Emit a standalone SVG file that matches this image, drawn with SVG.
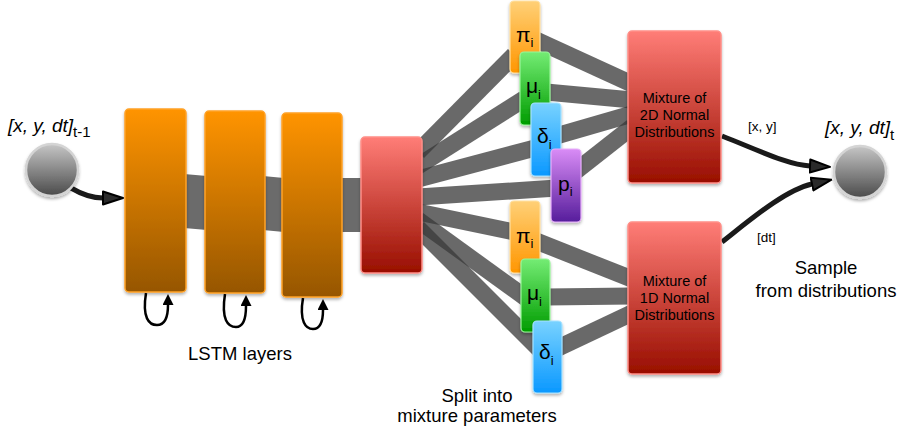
<svg xmlns="http://www.w3.org/2000/svg" width="902" height="434" viewBox="0 0 902 434">
<defs>
<style>
.t{font-family:"Liberation Sans",Arial,sans-serif;fill:#000}
.lab{font-size:18.5px}
.mix{font-size:14.5px;text-anchor:middle}
.small{font-size:13.5px}
.greek{font-size:21px}
.sub{font-size:13px}
.band{fill:#6b6b6b}
.fan{stroke:#3a3a3a;stroke-opacity:0.76;stroke-width:17;fill:none;stroke-linecap:butt}
.loop{stroke:#000;stroke-width:2.5;fill:none}
.flow{stroke:#1a1a1a;stroke-width:5;fill:none}
</style>
<linearGradient id="gOr" x1="0" y1="0" x2="0" y2="1"><stop offset="0" stop-color="#ff9400"/><stop offset="1" stop-color="#965600"/></linearGradient>
<linearGradient id="gRed" x1="0" y1="0" x2="0" y2="1"><stop offset="0" stop-color="#ff7d77"/><stop offset="1" stop-color="#980e00"/></linearGradient>
<linearGradient id="gPi" x1="0" y1="0" x2="0" y2="1"><stop offset="0" stop-color="#ffd077"/><stop offset="1" stop-color="#ff9600"/></linearGradient>
<linearGradient id="gMu" x1="0" y1="0" x2="0" y2="1"><stop offset="0" stop-color="#74ec74"/><stop offset="1" stop-color="#009c00"/></linearGradient>
<linearGradient id="gDe" x1="0" y1="0" x2="0" y2="1"><stop offset="0" stop-color="#78d2ff"/><stop offset="1" stop-color="#0a98ff"/></linearGradient>
<linearGradient id="gP" x1="0" y1="0" x2="0" y2="1"><stop offset="0" stop-color="#d98cf6"/><stop offset="1" stop-color="#561d9c"/></linearGradient>
<linearGradient id="gCi" x1="0" y1="0" x2="0" y2="1"><stop offset="0" stop-color="#c6c6c6"/><stop offset="1" stop-color="#4a4a4a"/></linearGradient>
<filter id="sh" x="-20%" y="-20%" width="140%" height="140%"><feDropShadow dx="0" dy="2" stdDeviation="1.5" flood-color="#000" flood-opacity="0.3"/></filter>
<marker id="aLoop" viewBox="0 0 12 12" refX="0" refY="6" markerWidth="12" markerHeight="11" markerUnits="userSpaceOnUse" orient="auto"><path d="M0,0 L12,6 L0,12 Z" fill="#000"/></marker>
<marker id="aFlow" viewBox="0 0 22 16" refX="1" refY="8" markerWidth="22" markerHeight="16" markerUnits="userSpaceOnUse" orient="auto"><path d="M1,1.5 L21,8 L1,14.5 Z" fill="#2a2a2a" stroke="#000" stroke-width="2" stroke-linejoin="round"/></marker>
</defs>
<rect width="902" height="434" fill="#fff"/>

<g id="connectors">
  <polygon class="band" points="184,174 207,176 207,230 184,228"/>
  <polygon class="band" points="263,176 284,178 284,232 263,230"/>
  <polygon class="band" points="340,178 363,178 363,232 340,232"/>
  <line class="fan" x1="418" y1="152" x2="514" y2="55"/>
  <line class="fan" x1="418" y1="166" x2="524" y2="99"/>
  <line class="fan" x1="418" y1="179" x2="535" y2="148"/>
  <line class="fan" x1="418" y1="197" x2="557" y2="188"/>
  <line class="fan" x1="418" y1="212" x2="514" y2="232"/>
  <line class="fan" x1="418" y1="220" x2="526" y2="298"/>
  <line class="fan" x1="418" y1="228" x2="540" y2="350"/>
  <line class="fan" x1="536" y1="40" x2="632" y2="84"/>
  <line class="fan" x1="546" y1="92" x2="632" y2="100"/>
  <line class="fan" x1="556" y1="136" x2="632" y2="114"/>
  <line class="fan" x1="576" y1="171" x2="632" y2="127"/>
  <line class="fan" x1="536" y1="241" x2="632" y2="279"/>
  <line class="fan" x1="546" y1="297" x2="632" y2="296"/>
  <line class="fan" x1="558" y1="348" x2="632" y2="313"/>
  <path class="flow" d="M71,188 Q88,198 103,198" marker-end="url(#aFlow)"/>
  <path class="flow" d="M722,136 C758,150 788,165 810,166" marker-end="url(#aFlow)"/>
  <path class="flow" d="M722,242 C750,220 785,190 812,184" marker-end="url(#aFlow)"/>
  <path class="loop" d="M146,293 C142,318 149,325 157,325 C165,325 168,316 168,305" marker-end="url(#aLoop)"/>
  <path class="loop" d="M225,294 C221,320 228,327 236,327 C244,327 246,318 246,306" marker-end="url(#aLoop)"/>
  <path class="loop" d="M303,298 C299,322 306,329 313,329 C320,329 323,321 323,310" marker-end="url(#aLoop)"/>
</g>

<g id="input">
  <circle cx="52" cy="170" r="26" fill="url(#gCi)" stroke="#d4d4d4" stroke-width="2.5" filter="url(#sh)"/>
  <text class="t" x="8" y="132" font-size="19" font-style="italic">[x, y, dt]<tspan font-style="normal" font-size="15" dy="5">t-1</tspan></text>
</g>

<g id="lstm1"><rect x="125" y="109" width="61" height="183" rx="4" fill="url(#gOr)" stroke="#ffa226" stroke-width="1.5" filter="url(#sh)"/></g>
<g id="lstm2"><rect x="205" y="111" width="60" height="182" rx="4" fill="url(#gOr)" stroke="#ffa226" stroke-width="1.5" filter="url(#sh)"/></g>
<g id="lstm3"><rect x="282" y="113" width="60" height="184" rx="4" fill="url(#gOr)" stroke="#ffa226" stroke-width="1.5" filter="url(#sh)"/></g>
<g id="lstm-label"><text class="t lab" x="240" y="360" text-anchor="middle">LSTM layers</text></g>

<g id="split"><rect x="361" y="137" width="61" height="136" rx="4" fill="url(#gRed)" stroke="#ff8f88" stroke-width="1.5" filter="url(#sh)"/></g>

<g id="pi-top"><rect x="510" y="1" width="30" height="72" rx="4" fill="url(#gPi)" stroke="#ffe0a0" stroke-width="1.2" filter="url(#sh)"/>
  <text class="t greek" x="516" y="42">π<tspan class="sub" dy="5">i</tspan></text></g>
<g id="mu-top"><rect x="520" y="52" width="30" height="73" rx="4" fill="url(#gMu)" stroke="#9af59a" stroke-width="1.2" filter="url(#sh)"/>
  <text class="t greek" x="526" y="93">μ<tspan class="sub" dy="6">i</tspan></text></g>
<g id="delta-top"><rect x="531" y="103" width="30" height="73" rx="4" fill="url(#gDe)" stroke="#a6e2ff" stroke-width="1.2" filter="url(#sh)"/>
  <text class="t greek" x="537" y="143">δ<tspan class="sub" dy="6">i</tspan></text></g>
<g id="p-top"><rect x="551" y="149" width="30" height="73" rx="4" fill="url(#gP)" stroke="#e7b0fa" stroke-width="1.2" filter="url(#sh)"/>
  <text class="t greek" x="558" y="191">p<tspan class="sub" dy="5">i</tspan></text></g>

<g id="pi-bot"><rect x="510" y="201" width="30" height="72" rx="4" fill="url(#gPi)" stroke="#ffe0a0" stroke-width="1.2" filter="url(#sh)"/>
  <text class="t greek" x="516" y="243">π<tspan class="sub" dy="5">i</tspan></text></g>
<g id="mu-bot"><rect x="521" y="259" width="29" height="73" rx="4" fill="url(#gMu)" stroke="#9af59a" stroke-width="1.2" filter="url(#sh)"/>
  <text class="t greek" x="527" y="300">μ<tspan class="sub" dy="6">i</tspan></text></g>
<g id="delta-bot"><rect x="533" y="321" width="29" height="72" rx="4" fill="url(#gDe)" stroke="#a6e2ff" stroke-width="1.2" filter="url(#sh)"/>
  <text class="t greek" x="539" y="359">δ<tspan class="sub" dy="6">i</tspan></text></g>

<g id="split-label">
  <text class="t lab" x="477" y="402" text-anchor="middle">Split into</text>
  <text class="t lab" x="477" y="422" text-anchor="middle">mixture parameters</text>
</g>

<g id="mix2d"><rect x="628" y="31" width="93" height="152" rx="4" fill="url(#gRed)" stroke="#ff8f88" stroke-width="1.5" filter="url(#sh)"/>
  <text class="t mix" x="674.5" y="103">Mixture of</text>
  <text class="t mix" x="674.5" y="120">2D Normal</text>
  <text class="t mix" x="674.5" y="137">Distributions</text></g>
<g id="mix1d"><rect x="628" y="222" width="93" height="152" rx="4" fill="url(#gRed)" stroke="#ff8f88" stroke-width="1.5" filter="url(#sh)"/>
  <text class="t mix" x="674.5" y="286">Mixture of</text>
  <text class="t mix" x="674.5" y="303">1D Normal</text>
  <text class="t mix" x="674.5" y="320">Distributions</text></g>

<g id="labels">
  <text class="t small" x="748" y="131">[x, y]</text>
  <text class="t small" x="757" y="242">[dt]</text>
  <text class="t lab" x="826" y="274" text-anchor="middle">Sample</text>
  <text class="t lab" x="826" y="297" text-anchor="middle">from distributions</text>
</g>

<g id="output">
  <circle cx="860" cy="172" r="26" fill="url(#gCi)" stroke="#d4d4d4" stroke-width="2.5" filter="url(#sh)"/>
  <text class="t" x="825" y="134" font-size="19" font-style="italic">[x, y, dt]<tspan font-style="normal" font-size="15" dy="6">t</tspan></text>
</g>
</svg>
